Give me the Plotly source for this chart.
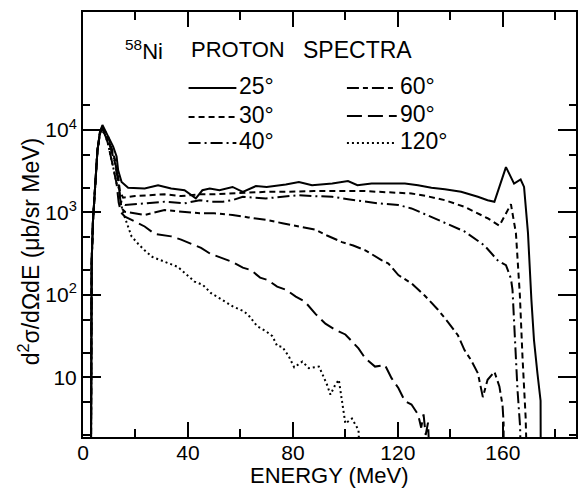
import plotly.graph_objects as go

# ---------------- data ----------------
angles = ["25°", "30°", "40°", "60°", "90°", "120°"]

E25 = [3.0, 3.1, 3.3, 3.8, 4.6, 5.5, 6.4, 7.4, 9.0, 11.5, 12.8, 13.4, 14.7, 16.6, 17.2, 23.5, 28.6, 33.6,
       38.7, 43.0, 45.5, 48.3, 52, 57, 60.9, 65.9, 70, 77.3, 82.3, 87.3, 95, 101, 104.6, 110, 116.4, 122.7,
       127.7, 132.8, 137.9, 144.1, 150.5, 154.2, 156.8, 161.2, 164.3, 166.8, 168.1, 169.6, 170.9, 171.9,
       173.2, 174.4, 174.5]
V25 = [0.3, 31.6, 251, 794, 2240, 5620, 9330, 11500, 9120, 6310, 4790, 3240, 2340, 2090, 2000, 1950, 2140, 1950,
       1860, 1480, 1860, 1950, 1860, 2040, 1780, 2090, 2040, 2190, 2340, 2140, 2240, 2400, 2140, 2240, 2240, 2240,
       2140, 2000, 1910, 1780, 1550, 1410, 1350, 3550, 2240, 2510, 2040, 562, 87, 28,
       11.2, 5.2, 0.3]

E30 = [3.0, 3.1, 3.3, 3.8, 4.6, 5.5, 6.4, 7.2, 8.5, 9.6, 12.2, 13.4, 14.1, 15.3, 19.8, 26, 31.1, 37.4, 44.5,
       50, 57, 63, 69.7, 76, 82.3, 88, 95, 101, 107.6, 112.6, 120, 125.2, 131, 137.9, 145.4, 150.5, 154.2,
       158.7, 163.1, 165.0, 166.5, 167.5, 168.7, 169.4]
V30 = [0.5, 31.6, 251, 794, 2240, 5620, 8910, 10960, 9550, 8320, 4370, 2690, 1780, 1510, 1580, 1620, 1660, 1580, 1660,
       1660, 1700, 1740, 1780, 1780, 1820, 1820, 1820, 1820, 1820, 1780, 1740, 1700, 1580, 1410, 1170, 977, 851,
       692, 1260, 562, 100, 17.8, 3.3, 0.5]

E40 = [3.0, 3.1, 3.3, 3.8, 4.6, 5.5, 6.4, 7.2, 8.5, 9.6, 12.2, 13.4, 14.1, 14.7, 16, 23.5, 31.1, 38.7, 44.5,
       48.8, 53.3, 57, 60.9, 65, 69.7, 76, 82.3, 88, 95, 101, 107.6, 112.6, 120.2, 125.2, 131, 137.9, 145.4,
       153, 158, 161.2, 163.1, 163.7, 164.6, 165.6, 166.6, 167.0]
V40 = [0.5, 31.6, 251, 794, 2240, 5620, 8910, 10700, 9330, 7940, 4170, 2510, 1580, 1320, 1230, 1290, 1350, 1290, 1410,
       1350, 1350, 1410, 1550, 1510, 1480, 1550, 1620, 1580, 1550, 1450, 1350, 1290, 1230, 1120, 933, 741, 589,
       398, 263, 229, 158, 115, 28.2, 7.08, 2.51, 0.5]

E60 = [3.0, 3.1, 3.3, 3.8, 4.6, 5.5, 6.4, 7.2, 8.5, 9.6, 12.2, 13.4, 14.1, 14.7, 16, 23.5, 31.1, 38.7, 44.5,
       50, 57, 63, 69.7, 76, 82, 88.6, 93, 98.7, 103, 107.6, 113.9, 116.4, 120.2, 125.2, 130.3, 135.3, 139.1,
       142.9, 145.4, 147.9, 150.5, 152.4, 154.2, 156.8, 158.7, 159.9, 160.3, 160.4]
V60 = [0.5, 31.6, 251, 794, 2240, 5620, 8910, 10500, 9120, 7590, 3980, 2400, 1510, 1120, 1020, 933, 1070, 1020, 977,
       977, 933, 871, 813, 741, 676, 617, 525, 437, 398, 347, 263, 240, 174, 138, 97.7, 66.1, 46.8,
       32.4, 21.4, 16.2, 11.2, 5.75, 9.33, 11.7, 7.76, 4.57, 2.82, 0.5]

E90 = [3.0, 3.1, 3.3, 3.8, 4.6, 5.5, 6.4, 7.0, 8.3, 9.4, 11.5, 12.8, 13.6, 14.5, 16, 18.5, 23.5, 27.3, 33.6,
       37.4, 41, 45, 48.5, 52, 53.8, 57, 60.9, 64, 67.5, 70.5, 74, 77.5, 81.1, 84.5, 88.6, 92.4, 96, 100, 103,
       105, 107.6, 111.3, 115.1, 117.6, 120.2, 122.7, 125.2, 127.7, 128.9, 129.8, 130.6, 131.5, 132.5]
V90 = [0.5, 31.6, 251, 794, 2240, 5620, 8910, 10000, 8910, 7080, 3550, 2240, 1320, 1000, 891, 813, 676, 550, 513,
       468, 417, 372, 316, 288, 275, 251, 214, 200, 162, 151, 126, 115, 95.5, 83.2, 58.9, 44.7, 38.0, 33.1, 26.3,
       22.4, 17.0, 13.5, 14.1, 9.77, 7.41, 5.13, 4.68, 3.55, 2.45, 3.55, 2.0, 2.82, 0.5]

E120 = [3.0, 3.1, 3.3, 3.8, 4.6, 5.5, 6.4, 7.0, 8.3, 9.4, 11.5, 12.8, 13.6, 14.5, 15.5, 16.5, 17.2, 18.5, 21,
        23.5, 26.5, 29.8, 33, 36.1, 39, 42.5, 45.7, 48.8, 52, 55.1, 57.1, 61.4, 63.4, 66.4, 69.7, 72.2, 74, 76,
        78.5, 80.5, 83.6, 86.1, 89.9, 91.1, 93.0, 94.3, 96, 97.5, 98.7, 100, 102.5, 105, 106]
V120 = [0.5, 31.6, 251, 794, 2240, 5620, 8910, 10000, 8910, 7080, 3550, 2240, 2000, 1260, 955, 759, 676, 513, 417,
        347, 288, 263, 240, 219, 182, 145, 132, 105, 91.2, 79.4, 72.4, 63.1, 55.0, 41.7, 36.3, 31.6, 24.0, 23.4,
        17.8, 13.2, 15.5, 12.9, 13.5, 11.2, 8.13, 6.17, 7.94, 9.33, 5.25, 2.75, 3.16, 2.29, 0.5]

x_major = [0, 40, 80, 120, 160]
x_minor = [20, 60, 100, 140, 180]
y_major = [10, 100, 1000, 10000]
y_major_text = ["10", "10<sup>2</sup>", "10<sup>3</sup>", "10<sup>4</sup>"]
y_minor = [2, 5, 20, 50, 200, 500, 2000, 5000, 20000]

# ---------------- styling ----------------
W, H = 581, 489
L, R, T, B = 83, 3, 12, 52
PW, PH = W - L - R, H - T - B
FONT = "Liberation Sans"

def px(xp):
    return (xp - L) / PW

def py(yp):
    return (H - B - yp) / PH

dashes = {
    "25°": "solid",
    "30°": "6px,4px",
    "40°": "12px,4px,2px,4px",
    "60°": "12px,4px,5px,4px",
    "90°": "15px,6px",
    "120°": "2px,3px",
}
series = {"25°": (E25, V25), "30°": (E30, V30), "40°": (E40, V40),
          "60°": (E60, V60), "90°": (E90, V90), "120°": (E120, V120)}

fig = go.Figure()
for a in angles:
    xs, ys = series[a]
    fig.add_trace(go.Scatter(x=xs, y=ys, mode="lines", showlegend=False,
                             line=dict(color="black", width=2, dash=dashes[a])))

fig.update_layout(
    width=W, height=H, margin=dict(l=L, r=R, t=T, b=B),
    paper_bgcolor="white", plot_bgcolor="white",
    font=dict(family=FONT, color="black", size=20),
    showlegend=False,
)
fig.update_xaxes(range=[0, 187.9], showgrid=False, zeroline=False,
                 showline=True, linecolor="black", linewidth=2, mirror="allticks",
                 ticks="inside", ticklen=15, tickwidth=2, tickcolor="black",
                 tickvals=x_major, ticktext=[str(v) for v in x_major],
                 tickfont=dict(size=21, family=FONT), ticklabelstandoff=-4,
                 minor=dict(tickvals=x_minor, ticks="inside", ticklen=8, tickwidth=2, tickcolor="black"))
fig.update_yaxes(type="log", range=[0.276, 5.432], showgrid=False, zeroline=False,
                 showline=True, linecolor="black", linewidth=2, mirror="allticks",
                 ticks="inside", ticklen=18, tickwidth=2, tickcolor="black",
                 tickvals=y_major, ticktext=y_major_text,
                 tickfont=dict(size=21, family=FONT),
                 minor=dict(tickvals=y_minor, ticks="inside", ticklen=7, tickwidth=2, tickcolor="black"))

ann = []
# title
ann.append(dict(x=px(123), y=py(50), text="<sup>58</sup>Ni", xanchor="left", yanchor="middle"))
ann.append(dict(x=px(189), y=py(50), text="PROTON", xanchor="left", yanchor="middle"))
ann.append(dict(x=px(302), y=py(50), text="SPECTRA", xanchor="left", yanchor="middle",
                font=dict(size=23, family=FONT)))
# legend
leg_pos = {"25°": (189, 237, 88), "30°": (189, 237, 117), "40°": (189, 237, 143),
           "60°": (348, 398, 88), "90°": (348, 398, 116), "120°": (348, 398, 143)}
shapes = []
for a in angles:
    x0, x1, yy = leg_pos[a]
    shapes.append(dict(type="line", xref="paper", yref="paper", x0=px(x0), x1=px(x1), y0=py(yy), y1=py(yy),
                       line=dict(color="black", width=2, dash=dashes[a])))
    ann.append(dict(x=px(x1 + 1), y=py(yy - 2), text=a, xanchor="left", yanchor="middle",
                    font=dict(size=23, family=FONT)))
# axis titles
ann.append(dict(x=px(331), y=py(475), text="ENERGY (MeV)", xanchor="center", yanchor="middle",
                font=dict(size=22, family=FONT)))
ann.append(dict(x=px(29), y=py(252), text="d<sup>2</sup>σ/dΩdE (μb/sr MeV)", textangle=-90,
                xanchor="center", yanchor="middle", font=dict(size=23, family=FONT)))
for a_ in ann:
    a_.update(xref="paper", yref="paper", showarrow=False)
    a_.setdefault("font", dict(size=22, family=FONT))
fig.update_layout(annotations=ann, shapes=shapes)

fig.write_html("out.html", config={"displayModeBar": False},
               post_script="document.body.style.margin='0';document.body.style.padding='0';")
